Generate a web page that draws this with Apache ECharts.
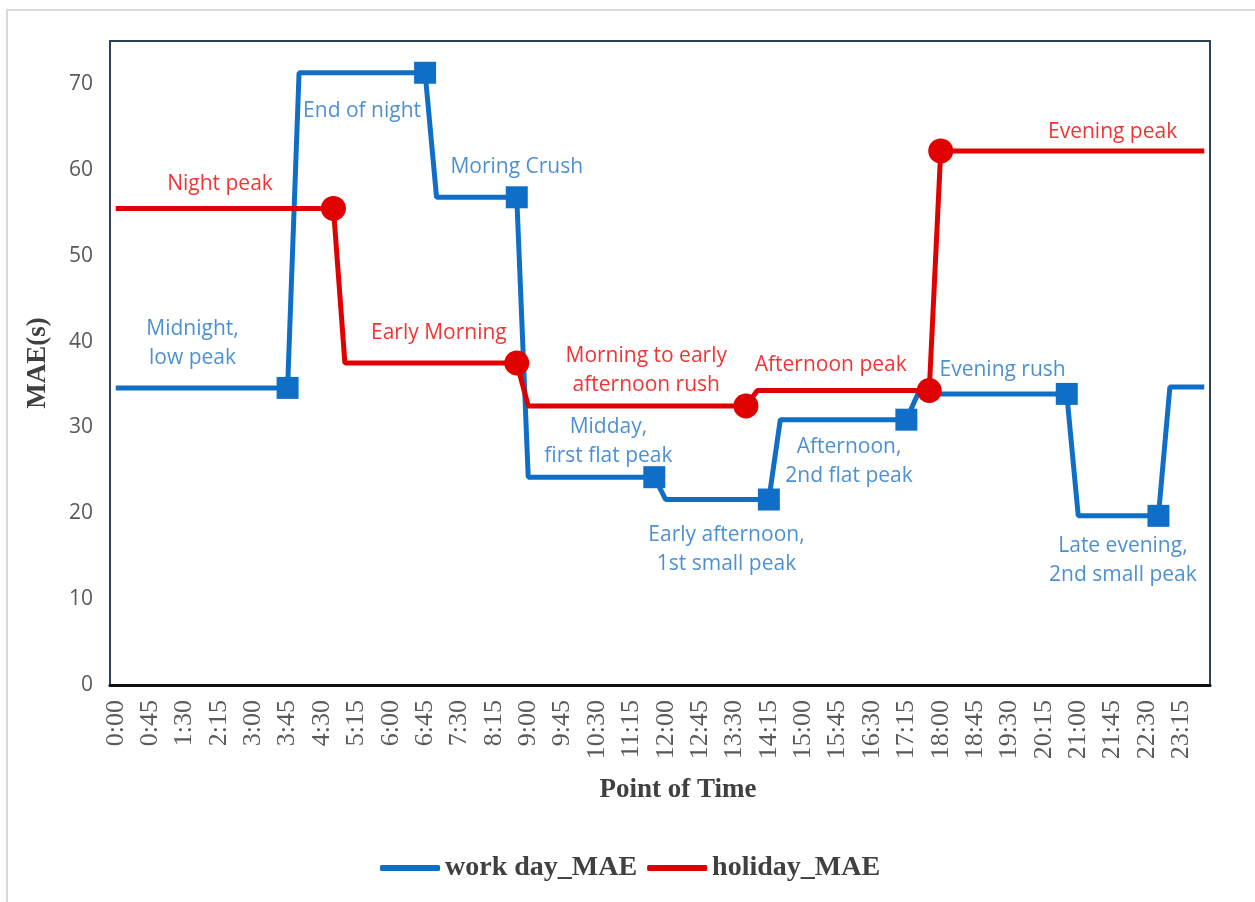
<!DOCTYPE html>
<html>
<head>
<meta charset="utf-8">
<script src="https://cdn.jsdelivr.net/npm/echarts@6/dist/echarts.min.js"></script>
<style>
html,body{margin:0;padding:0;background:#fff;}
#main{width:1255px;height:902px;}
</style>
</head>
<body>
<div id="main"></div>
<script>
// 15-minute time points, 0:00 .. 23:45
var times = [];
for (var h = 0; h < 24; h++) {
    for (var m = 0; m < 60; m += 15) {
        times.push(h + ':' + (m < 10 ? '0' + m : m));
    }
}

var workDay = [
    34.6, 34.6, 34.6, 34.6, 34.6, 34.6, 34.6, 34.6, 34.6, 34.6, 34.6, 34.6, 34.6, 34.6, 34.6, 34.6,
    71.3, 71.3, 71.3, 71.3, 71.3, 71.3, 71.3, 71.3, 71.3, 71.3, 71.3, 71.3,
    56.8, 56.8, 56.8, 56.8, 56.8, 56.8, 56.8, 56.8,
    24.2, 24.2, 24.2, 24.2, 24.2, 24.2, 24.2, 24.2, 24.2, 24.2, 24.2, 24.2,
    21.6, 21.6, 21.6, 21.6, 21.6, 21.6, 21.6, 21.6, 21.6, 21.6,
    30.9, 30.9, 30.9, 30.9, 30.9, 30.9, 30.9, 30.9, 30.9, 30.9, 30.9, 30.9,
    33.9, 33.9, 33.9, 33.9, 33.9, 33.9, 33.9, 33.9, 33.9, 33.9, 33.9, 33.9, 33.9, 33.9,
    19.7, 19.7, 19.7, 19.7, 19.7, 19.7, 19.7, 19.7,
    34.7, 34.7, 34.7, 34.7
];
var holiday = [
    55.5, 55.5, 55.5, 55.5, 55.5, 55.5, 55.5, 55.5, 55.5, 55.5, 55.5, 55.5, 55.5, 55.5, 55.5, 55.5, 55.5, 55.5, 55.5, 55.5,
    37.5, 37.5, 37.5, 37.5, 37.5, 37.5, 37.5, 37.5, 37.5, 37.5, 37.5, 37.5, 37.5, 37.5, 37.5, 37.5,
    32.5, 32.5, 32.5, 32.5, 32.5, 32.5, 32.5, 32.5, 32.5, 32.5, 32.5, 32.5, 32.5, 32.5, 32.5, 32.5, 32.5, 32.5, 32.5, 32.5,
    34.3, 34.3, 34.3, 34.3, 34.3, 34.3, 34.3, 34.3, 34.3, 34.3, 34.3, 34.3, 34.3, 34.3, 34.3, 34.3,
    62.2, 62.2, 62.2, 62.2, 62.2, 62.2, 62.2, 62.2, 62.2, 62.2, 62.2, 62.2,
    62.2, 62.2, 62.2, 62.2, 62.2, 62.2, 62.2, 62.2, 62.2, 62.2, 62.2, 62.2
];

// indices that carry a marker
var workMarks = [15, 27, 35, 47, 57, 69, 83, 91];
var holidayMarks = [19, 35, 55, 71, 72];

// text notes: [x (time index), y (MAE), text]
var workNotes = [
    [6.7, 39.8, 'Midnight,\nlow peak'],
    [21.5, 66.9, 'End of night'],
    [35.0, 60.3, 'Moring Crush'],
    [43.0, 28.4, 'Midday,\nfirst flat peak'],
    [53.3, 15.8, 'Early afternoon,\n1st small peak'],
    [64.0, 26.0, 'Afternoon,\n2nd flat peak'],
    [77.4, 36.7, 'Evening rush'],
    [87.9, 14.5, 'Late evening,\n2nd small peak']
];
var holidayNotes = [
    [9.1, 58.4, 'Night peak'],
    [28.2, 41.0, 'Early Morning'],
    [46.3, 36.6, 'Morning to early\nafternoon rush'],
    [62.4, 37.3, 'Afternoon peak'],
    [87.0, 64.4, 'Evening peak']
];

var blue = '#0f6fc6';
var red = '#e00000';

function noteData(notes) {
    return notes.map(function (n) {
        return { value: [n[0], n[1]], name: n[2] };
    });
}

var myChart = echarts.init(document.getElementById('main'));
var option = {
    backgroundColor: '#fff',
    animation: false,
    graphic: [{
        type: 'rect',
        shape: { x: 7, y: 10, width: 1300, height: 1000 },
        style: { fill: 'none', stroke: '#d9d9d9', lineWidth: 2 },
        silent: true
    }],
    grid: {
        left: 110, right: 45, top: 41, bottom: 217,
        show: true,
        borderColor: '#2b4257',
        borderWidth: 2
    },
    legend: {
        data: ['work day_MAE', 'holiday_MAE'],
        left: 375,
        top: 849,
        icon: 'roundRect',
        itemWidth: 60,
        itemHeight: 6,
        itemGap: 10,
        textStyle: {
            fontFamily: 'Liberation Serif',
            fontWeight: 'bold',
            fontSize: 28,
            color: '#404040'
        }
    },
    xAxis: [{
        type: 'category',
        data: times,
        boundaryGap: true,
        name: 'Point of Time',
        nameLocation: 'middle',
        nameGap: 92,
        nameTextStyle: {
            fontFamily: 'Liberation Serif',
            fontWeight: 'bold',
            fontSize: 27,
            color: '#404040',
            padding: [0, 0, 0, 36]
        },
        axisLine: { lineStyle: { color: '#111', width: 3 } },
        axisTick: { show: false },
        axisLabel: {
            interval: 2,
            rotate: 90,
            margin: 15,
            fontFamily: 'Liberation Serif',
            fontSize: 26,
            color: '#595959'
        },
        splitLine: { show: false }
    }, {
        // helper axis for the text notes
        type: 'value',
        min: -0.5,
        max: 95.5,
        show: false
    }],
    yAxis: {
        type: 'value',
        min: 0,
        max: 75,
        interval: 10,
        name: 'MAE(s)',
        nameLocation: 'middle',
        nameRotate: 90,
        nameGap: 58,
        nameTextStyle: {
            fontFamily: 'Liberation Serif',
            fontWeight: 'bold',
            fontSize: 27,
            color: '#404040'
        },
        axisLine: { show: true, onZero: false, lineStyle: { color: '#2b4257', width: 2 } },
        axisTick: { show: false },
        splitLine: { show: false },
        axisLabel: {
            margin: 17,
            fontFamily: 'Open Sans',
            fontSize: 21,
            color: '#595959',
            formatter: function (v) { return v % 10 === 0 ? v : ''; }
        }
    },
    series: [{
        name: 'work day_MAE',
        type: 'line',
        data: workDay,
        color: blue,
        lineStyle: { width: 5, color: blue },
        symbol: 'rect',
        showAllSymbol: true,
        symbolSize: function (v, p) { return workMarks.indexOf(p.dataIndex) >= 0 ? 22 : 0; },
        itemStyle: { color: blue },
        z: 2
    }, {
        name: 'holiday_MAE',
        type: 'line',
        data: holiday,
        color: red,
        lineStyle: { width: 5, color: red },
        symbol: 'circle',
        showAllSymbol: true,
        symbolSize: function (v, p) { return holidayMarks.indexOf(p.dataIndex) >= 0 ? 25 : 0; },
        itemStyle: { color: red },
        z: 3
    }, {
        name: 'workNotes',
        type: 'scatter',
        xAxisIndex: 1,
        data: noteData(workNotes),
        symbolSize: 0,
        label: {
            show: true,
            position: 'inside',
            formatter: '{b}',
            fontFamily: 'Open Sans',
            fontSize: 21,
            lineHeight: 29,
            align: 'center',
            color: '#1f74c9'
        },
        z: 5
    }, {
        name: 'holidayNotes',
        type: 'scatter',
        xAxisIndex: 1,
        data: noteData(holidayNotes),
        symbolSize: 0,
        label: {
            show: true,
            position: 'inside',
            formatter: '{b}',
            fontFamily: 'Open Sans',
            fontSize: 21,
            lineHeight: 29,
            align: 'center',
            color: '#f00000'
        },
        z: 5
    }]
};
myChart.setOption(option);
</script>
</body>
</html>
